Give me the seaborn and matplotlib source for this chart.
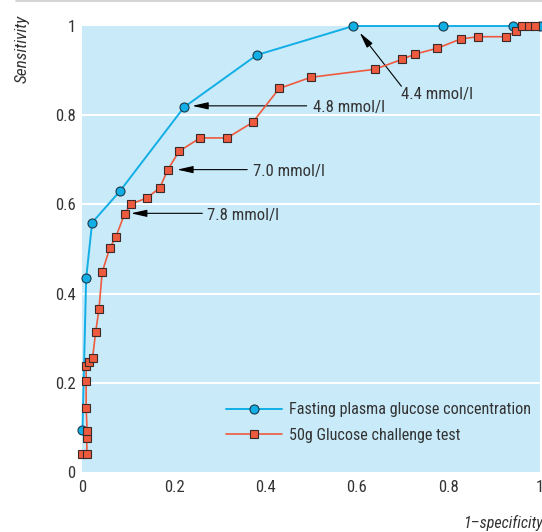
import matplotlib
matplotlib.use("Agg")
import matplotlib.pyplot as plt
import seaborn as sns
from matplotlib.lines import Line2D

# Fasting plasma glucose concentration
fpg_x = [0.0, 0.008, 0.021, 0.082, 0.222, 0.381, 0.592, 0.789, 0.942, 1.0]
fpg_y = [0.095, 0.434, 0.559, 0.630, 0.818, 0.935, 1.0, 1.0, 1.0, 1.0]

# 50g Glucose challenge test
gct_x = [0.0, 0.010, 0.009, 0.010, 0.008, 0.008, 0.008, 0.015, 0.022, 0.029,
         0.036, 0.043, 0.060, 0.073, 0.092, 0.106, 0.140, 0.169, 0.186, 0.211,
         0.257, 0.316, 0.372, 0.430, 0.499, 0.639, 0.698, 0.727, 0.775, 0.827,
         0.865, 0.926, 0.947, 0.960, 0.975, 0.990]
gct_y = [0.040, 0.040, 0.077, 0.093, 0.144, 0.205, 0.238, 0.247, 0.256, 0.315,
         0.365, 0.448, 0.503, 0.527, 0.579, 0.601, 0.614, 0.637, 0.677, 0.719,
         0.749, 0.749, 0.784, 0.860, 0.885, 0.903, 0.925, 0.937, 0.950, 0.971,
         0.976, 0.976, 0.988, 1.0, 1.0, 1.0]

# annotations: label, arrow tip, arrow tail, text position (left, centre)
notes = [
    ("4.4 mmol/l", (0.606, 0.985), (0.697, 0.865), (0.697, 0.846)),
    ("4.8 mmol/l", (0.240, 0.821), (0.490, 0.821), (0.503, 0.817)),
    ("7.0 mmol/l", (0.207, 0.678), (0.360, 0.678), (0.373, 0.674)),
    ("7.8 mmol/l", (0.106, 0.580), (0.262, 0.580), (0.273, 0.576)),
]

sns.set_theme(style="white")
plt.rcParams["font.family"] = ["Roboto Condensed", "DejaVu Sans"]

blue = "#12aee6"
red = "#ee5a3e"
bg = "#c8eaf9"
txt = "#333333"

fig = plt.figure(figsize=(5.42, 5.32), dpi=100)
ax = fig.add_axes([0.1522, 0.1128, 0.8441, 0.8383])
ax.set_facecolor(bg)

sns.lineplot(x=fpg_x, y=fpg_y, ax=ax, estimator=None, sort=False, color=blue,
             linewidth=1.4, marker="o", markersize=6.5, markerfacecolor=blue,
             markeredgecolor="#1a3a4a", markeredgewidth=0.8, clip_on=False,
             label="Fasting plasma glucose concentration", zorder=3)
sns.lineplot(x=gct_x, y=gct_y, ax=ax, estimator=None, sort=False, color=red,
             linewidth=1.2, marker="s", markersize=5.2, markerfacecolor=red,
             markeredgecolor="#3a2a2a", markeredgewidth=0.8, clip_on=False,
             label="50g Glucose challenge test", zorder=4)

for label, tip, tail, pos in notes:
    ax.annotate("", xy=tip, xytext=tail,
                arrowprops=dict(arrowstyle="-|>,head_length=0.8,head_width=0.18",
                                color="black", lw=0.8, shrinkA=0, shrinkB=0))
    ax.text(pos[0], pos[1], label, fontsize=12, color=txt,
            va="center", ha="left")

ax.set_xlim(0, 1)
ax.set_ylim(0, 1)
ax.set_xticks([0, 0.2, 0.4, 0.6, 0.8, 1])
ax.set_xticklabels(["0", "0.2", "0.4", "0.6", "0.8", "1"])
ax.set_yticks([0, 0.2, 0.4, 0.6, 0.8, 1])
ax.set_yticklabels(["0", "0.2", "0.4", "0.6", "0.8", "1"])
ax.tick_params(axis="x", direction="in", length=4, width=1.5, color="white",
               pad=6, labelsize=12, labelcolor=txt)
ax.tick_params(axis="y", length=0, pad=5, labelsize=12, labelcolor=txt)
for yv in [0.2, 0.4, 0.6, 0.8]:
    ax.axhline(yv, color="white", linewidth=1.5, zorder=1)
for s in ax.spines.values():
    s.set_visible(False)
ax.set_xlabel("")
ax.set_ylabel("")

leg = ax.legend(loc="lower right", bbox_to_anchor=(1.013, 0.033), frameon=False,
                fontsize=11.6, handlelength=3.5, labelcolor=txt,
                handletextpad=0.45, labelspacing=0.65)

fig.text(0.041, 0.972, "Sensitivity", rotation=90, style="italic",
         fontsize=12.5, color=txt, ha="center", va="top")
fig.text(0.854, 0.016, "1\u2013specificity", style="italic", fontsize=11.5,
         color=txt, ha="left", va="center")
fig.add_artist(Line2D([0.03, 1.0], [0.999, 0.999], color="#cccccc",
                      linewidth=1.2, transform=fig.transFigure))

fig.savefig("out.png", dpi=100)
